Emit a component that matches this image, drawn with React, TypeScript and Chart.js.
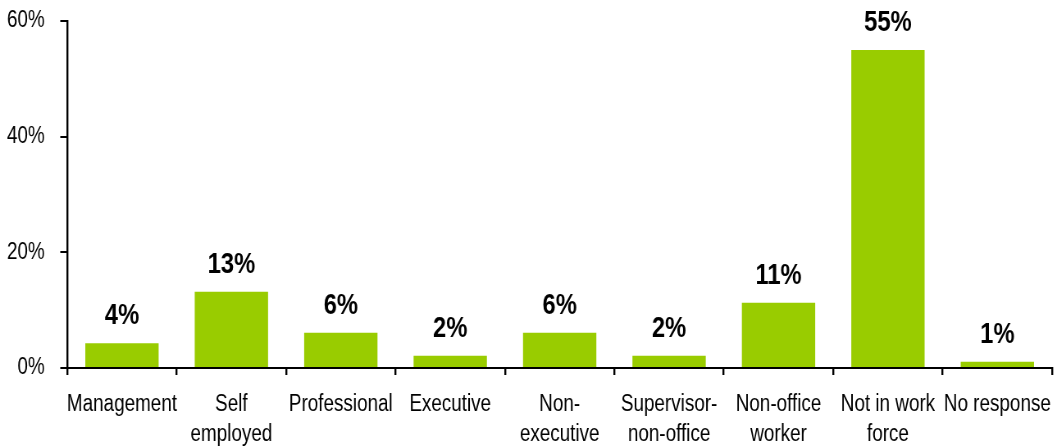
import React, { useEffect, useRef } from "react";
import { Chart, registerables } from "chart.js";

Chart.register(...registerables);

const categories: (string | string[])[] = [
  "Management",
  ["Self", "employed"],
  "Professional",
  "Executive",
  ["Non-", "executive"],
  ["Supervisor-", "non-office"],
  ["Non-office", "worker"],
  ["Not in work", "force"],
  "No response",
];
const values = [4.3, 13.2, 6.1, 2.1, 6.1, 2.1, 11.3, 55.0, 1.1];
const valueLabels = ["4%", "13%", "6%", "2%", "6%", "2%", "11%", "55%", "1%"];
const yTicks = [0, 20, 40, 60];

const FONT = "'Liberation Sans', Arial, sans-serif";

// Text in the reference is horizontally condensed; draw wider and squeeze via CSS.
const SQUEEZE = 0.82;
const OUT_W = 1057;
const OUT_H = 447;
const DRAW_W = Math.round(OUT_W / SQUEEZE);

const zeroPad = (s: any) => {
  s.paddingLeft = 0;
  s.paddingRight = 0;
  s.paddingTop = 0;
  s.paddingBottom = 0;
};

const dataLabelPlugin = {
  id: "dataLabels",
  afterDatasetsDraw(chart: any) {
    const ctx = chart.ctx;
    const meta = chart.getDatasetMeta(0);
    ctx.save();
    ctx.fillStyle = "#000";
    ctx.font = `bold 29px ${FONT}`;
    ctx.textAlign = "center";
    ctx.textBaseline = "alphabetic";
    meta.data.forEach((bar: any, i: number) => {
      ctx.fillText(valueLabels[i], bar.x, bar.y - 19);
    });
    ctx.restore();
  },
};

export default function App() {
  const ref = useRef<HTMLCanvasElement | null>(null);
  useEffect(() => {
    if (!ref.current) return;
    const chart = new Chart(ref.current, {
      type: "bar",
      data: {
        labels: categories,
        datasets: [
          {
            data: values,
            backgroundColor: "#99CC00",
            borderWidth: 0,
            barPercentage: 0.67,
            categoryPercentage: 1,
          },
        ],
      },
      options: {
        animation: false,
        responsive: false,
        devicePixelRatio: 1,
        layout: { padding: { top: 21, right: 6, left: 0, bottom: 0 } },
        plugins: { legend: { display: false }, tooltip: { enabled: false } },
        scales: {
          x: {
            afterFit: (s: any) => {
              s.height = 79;
              zeroPad(s);
            },
            grid: {
              offset: true,
              drawOnChartArea: false,
              drawTicks: true,
              tickLength: 7,
              color: "#000",
              lineWidth: 2.4,
            },
            border: { display: true, color: "#000", width: 2 },
            ticks: {
              color: "#000",
              font: { family: FONT, size: 23, lineHeight: 1.3 },
              padding: 15,
              maxRotation: 0,
              minRotation: 0,
              autoSkip: false,
            },
          },
          y: {
            min: 0,
            max: 60,
            afterFit: (s: any) => {
              s.width = 82;
              zeroPad(s);
            },
            afterBuildTicks: (s: any) => {
              s.ticks = yTicks.map((v) => ({ value: v }));
            },
            grid: {
              drawOnChartArea: false,
              drawTicks: true,
              tickLength: 8.5,
              color: "#000",
              lineWidth: 2,
            },
            border: { display: true, color: "#000", width: 2.4 },
            ticks: {
              color: "#000",
              font: { family: FONT, size: 23 },
              padding: 19,
              callback: (v: any) => `${v}%`,
            },
          },
        },
      },
      plugins: [dataLabelPlugin],
    });
    return () => chart.destroy();
  }, []);
  return (
    <div style={{ position: "fixed", left: 0, top: 0, width: OUT_W, height: OUT_H, background: "#fff" }}>
      <canvas
        ref={ref}
        width={DRAW_W}
        height={OUT_H}
        style={{ width: OUT_W + "px", height: OUT_H + "px", display: "block" }}
      />
    </div>
  );
}
